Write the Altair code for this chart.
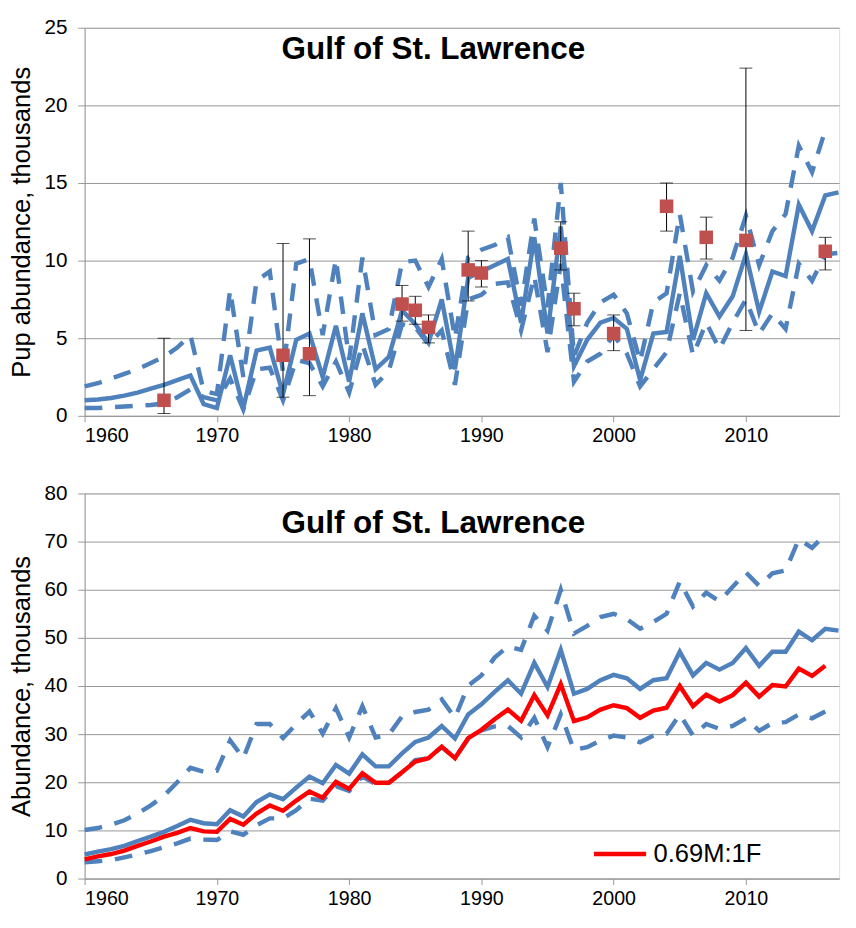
import altair as alt
import pandas as pd

# ---------------- data ----------------
years = list(range(1960, 2018))

# top panel: pup abundance (thousands)
pup_est = [1.0, 1.05, 1.15, 1.3, 1.5, 1.75, 2.0, 2.3, 2.6, 0.75,
           0.5, 3.9, 0.5, 4.2, 4.4, 1.4, 4.9, 5.3, 2.5, 5.8,
           2.2, 6.6, 3.0, 3.8, 6.8, 5.9, 4.7, 7.5, 3.0, 8.9,
           9.3, 9.7, 10.1, 6.0, 11.5, 5.3, 12.2, 3.2, 4.9, 6.0,
           6.3, 5.6, 2.3, 5.3, 5.4, 10.3, 4.9, 7.9, 6.4, 7.7,
           10.4, 6.7, 9.3, 9.0, 13.6, 11.9, 14.2, 14.4]
pup_upper = [1.9, 2.1, 2.4, 2.7, 3.0, 3.4, 3.8, 4.4, 5.2, 1.6,
             1.4, 8.1, 2.5, 8.7, 9.3, 2.8, 9.8, 10.1, 5.2, 10.1,
             3.6, 10.2, 5.2, 5.6, 9.9, 10.0, 8.3, 10.1, 5.0, 10.2,
             10.7, 11.0, 11.5, 7.1, 12.7, 7.0, 15.0, 3.8, 6.0, 7.3,
             7.8, 6.6, 3.5, 7.3, 7.9, 13.0, 8.0, 9.7, 8.7, 10.2,
             12.9, 9.7, 11.9, 13.0, 17.4, 15.7, 18.4]
pup_lower = [0.5, 0.5, 0.55, 0.6, 0.65, 0.7, 0.8, 1.2, 1.7, 1.2,
             1.0, 2.4, 0.4, 3.0, 3.1, 1.0, 3.6, 3.4, 1.9, 3.5,
             1.5, 4.6, 2.0, 2.9, 5.9, 5.7, 4.6, 5.5, 2.0, 7.5,
             7.8, 8.5, 8.6, 5.5, 9.0, 4.1, 9.8, 2.2, 3.5, 4.0,
             5.2, 4.0, 1.9, 3.0, 4.1, 7.9, 3.9, 6.0, 4.3, 6.0,
             7.5, 5.3, 6.6, 5.6, 9.8, 8.7, 10.4, 10.5]

obs_years = [1966, 1975, 1977, 1984, 1985, 1986, 1989, 1990, 1996, 1997,
             2000, 2004, 2007, 2010, 2016]
obs_vals = [1.0, 3.9, 4.0, 7.2, 6.8, 5.7, 9.4, 9.2, 10.8, 6.9,
            5.3, 13.5, 11.5, 11.3, 10.6]
obs_lo = [0.15, 1.2, 1.3, 6.1, 5.9, 4.7, 7.4, 8.3, 9.4, 5.8,
          4.2, 11.9, 10.1, 5.5, 9.4]
obs_hi = [5.0, 11.1, 11.4, 8.4, 7.7, 6.5, 11.9, 10.0, 12.5, 7.9,
          6.5, 15.0, 12.8, 22.4, 11.5]

# bottom panel: total abundance (thousands)
ab_est = [5.0, 5.6, 6.1, 6.8, 7.8, 8.7, 9.7, 10.9, 12.2, 11.5,
          11.3, 14.2, 12.9, 15.9, 17.5, 16.5, 18.9, 21.2, 19.8, 23.6,
          21.8, 25.8, 23.3, 23.3, 26.0, 28.4, 29.3, 31.7, 29.1, 34.1,
          36.2, 38.8, 41.2, 38.4, 44.8, 39.8, 47.5, 38.4, 39.4, 41.2,
          42.3, 41.6, 39.4, 41.2, 41.6, 47.1, 42.2, 44.8, 43.4, 44.8,
          47.9, 44.2, 47.1, 47.1, 51.3, 49.5, 51.9, 51.5]
ab_ratio = [4.0, 4.6, 5.1, 5.8, 6.8, 7.7, 8.7, 9.5, 10.5, 9.8,
            9.7, 12.4, 11.2, 13.5, 15.2, 14.1, 16.2, 18.1, 16.8, 20.1,
            18.6, 21.9, 19.9, 19.9, 22.1, 24.3, 25.0, 27.4, 25.0, 29.2,
            30.9, 33.1, 35.1, 32.8, 38.1, 33.9, 40.4, 32.7, 33.5, 35.1,
            36.0, 35.4, 33.4, 34.9, 35.5, 40.0, 35.8, 38.2, 36.8, 38.1,
            40.7, 37.8, 40.2, 39.9, 43.6, 42.1, 44.2]
ab_upper = [10.1, 10.5, 11.2, 12.1, 13.5, 15.2, 17.2, 20.0, 23.0, 22.2,
            22.4, 28.7, 25.0, 32.1, 32.1, 29.2, 32.1, 34.7, 30.1, 35.4,
            29.3, 35.8, 29.3, 29.9, 33.7, 34.6, 35.1, 37.2, 33.4, 40.1,
            42.2, 45.9, 48.2, 47.5, 54.6, 51.5, 60.0, 50.9, 52.5, 54.3,
            55.0, 53.9, 51.9, 53.3, 55.0, 61.7, 56.5, 59.4, 57.6, 60.6,
            63.6, 60.8, 63.4, 64.0, 70.5, 68.7, 71.5]
ab_lower = [3.4, 3.6, 3.8, 4.4, 5.0, 5.7, 6.5, 7.3, 8.3, 8.1,
            8.0, 9.8, 9.1, 11.1, 12.5, 12.5, 14.2, 16.6, 16.2, 19.2,
            18.2, 21.2, 19.6, 19.9, 22.0, 24.6, 25.0, 27.3, 25.0, 29.0,
            30.8, 31.6, 31.7, 29.3, 33.4, 27.3, 34.1, 26.7, 27.3, 28.7,
            29.7, 29.3, 28.3, 29.7, 30.1, 34.1, 29.7, 32.1, 31.1, 31.7,
            33.3, 30.7, 32.3, 32.5, 34.1, 33.3, 34.7]

x_ticks = [1960, 1970, 1980, 1990, 2000, 2010]
top_y_ticks = [0, 5, 10, 15, 20, 25]
bot_y_ticks = [0, 10, 20, 30, 40, 50, 60, 70, 80]
ratio_label = "0.69M:1F"
panel_title = "Gulf of St. Lawrence"

# ---------------- styling ----------------
BLUE = "#4F81BD"
RED = "#FF0000"
MARK = "#C0504D"
GRID = "#969696"
FONT = "Liberation Sans"
W = 768
H_TOP, H_BOT = 395, 392
LW = 4.5
DASH = [18, 13]


def series(vals):
    return pd.DataFrame({"year": years[:len(vals)], "v": vals})


xscale = alt.Scale(domain=[1960, 2017.05], nice=False, zero=False)
xaxis = alt.Axis(values=x_ticks, format="d", grid=False, ticks=True, tickSize=6,
                 tickColor=GRID, domainColor=GRID, labelFontSize=20,
                 labelPadding=4, labelColor="#000000", labelFont=FONT)


def yaxis(vals):
    return alt.Axis(values=vals, grid=True, gridColor=GRID, domainColor=GRID,
                    tickColor=GRID, tickSize=7, labelPadding=11, labelFontSize=21,
                    labelColor="#000000", labelFont=FONT, titleFont=FONT,
                    titleFontSize=26, titleFontWeight="normal", titleColor="#000000",
                    titlePadding=10)


def X():
    return alt.X("year:Q", scale=xscale, axis=xaxis, title=None)


def title_layer(ty):
    return alt.Chart(pd.DataFrame({"t": [panel_title]})).mark_text(
        font=FONT, fontSize=32, fontWeight="bold", color="#000000",
        align="center", baseline="alphabetic"
    ).encode(x=alt.value(355), y=alt.value(ty), text="t:N")


# ---------------- top panel ----------------
ttl_top = "Pup abundance, thousands"
ysc_top = alt.Scale(domain=[0, 25], nice=False)


def Yt(field):
    return alt.Y(field, scale=ysc_top, axis=yaxis(top_y_ticks), title=ttl_top)


obs = pd.DataFrame({"year": obs_years, "v": obs_vals, "lo": obs_lo, "hi": obs_hi})
caps = pd.DataFrame({"year": obs_years + obs_years, "v": obs_lo + obs_hi})

t_est = alt.Chart(series(pup_est)).mark_line(color=BLUE, strokeWidth=LW).encode(x=X(), y=Yt("v:Q"))
t_up = alt.Chart(series(pup_upper)).mark_line(color=BLUE, strokeWidth=LW, strokeDash=DASH).encode(x=X(), y=Yt("v:Q"))
t_lo = alt.Chart(series(pup_lower)).mark_line(color=BLUE, strokeWidth=LW, strokeDash=DASH).encode(x=X(), y=Yt("v:Q"))
t_bar = alt.Chart(obs).mark_rule(color="#000000", strokeWidth=1).encode(x=X(), y=Yt("lo:Q"), y2="hi:Q")
t_cap = alt.Chart(caps).mark_tick(color="#000000", orient="horizontal", size=13, thickness=1).encode(x=X(), y=Yt("v:Q"))
t_pts = alt.Chart(obs).mark_square(color=MARK, size=190, opacity=1).encode(x=X(), y=Yt("v:Q"))

top = alt.layer(t_est, t_up, t_lo, t_bar, t_cap, t_pts, title_layer(32)).properties(
    width=W, height=H_TOP)

# ---------------- bottom panel ----------------
ttl_bot = "Abundance, thousands"
ysc_bot = alt.Scale(domain=[0, 80], nice=False)


def Yb(field):
    return alt.Y(field, scale=ysc_bot, axis=yaxis(bot_y_ticks), title=ttl_bot)


ratio_df = series(ab_ratio)
ratio_df["s"] = ratio_label

b_est = alt.Chart(series(ab_est)).mark_line(color=BLUE, strokeWidth=LW).encode(x=X(), y=Yb("v:Q"))
b_up = alt.Chart(series(ab_upper)).mark_line(color=BLUE, strokeWidth=LW, strokeDash=DASH).encode(x=X(), y=Yb("v:Q"))
b_lo = alt.Chart(series(ab_lower)).mark_line(color=BLUE, strokeWidth=LW, strokeDash=DASH).encode(x=X(), y=Yb("v:Q"))
b_red = alt.Chart(ratio_df).mark_line(strokeWidth=LW).encode(
    x=X(), y=Yb("v:Q"),
    color=alt.Color("s:N", scale=alt.Scale(domain=[ratio_label], range=[RED]),
                    legend=alt.Legend(title=None, orient="none", legendX=516, legendY=812,
                                      symbolType="stroke", symbolSize=2809,
                                      symbolStrokeWidth=LW, labelFontSize=26,
                                      labelFont=FONT, labelColor="#000000",
                                      padding=0, labelOffset=5)))

bottom = alt.layer(b_est, b_up, b_lo, b_red, title_layer(40)).properties(
    width=W, height=H_BOT)

chart = alt.vconcat(top, bottom, spacing=36).properties(
    padding={"left": 0, "top": 0, "right": 0, "bottom": 0}
).configure_view(stroke=None).configure(font=FONT)

chart.save("out.html", embed_options={"renderer": "svg", "actions": False})
